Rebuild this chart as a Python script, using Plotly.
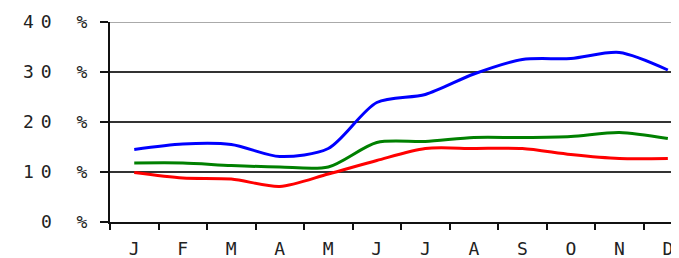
import plotly.graph_objects as go

months = ["J", "F", "M", "A", "M", "J", "J", "A", "S", "O", "N", "D"]
blue_vals = [14.5, 15.6, 15.5, 13.1, 14.7, 23.9, 25.5, 29.6, 32.5, 32.7, 33.9, 30.4]
green_vals = [11.8, 11.8, 11.3, 11.0, 11.0, 15.9, 16.1, 16.9, 16.9, 17.1, 17.9, 16.7]
red_vals = [9.9, 8.8, 8.6, 7.1, 9.6, 12.3, 14.7, 14.7, 14.7, 13.5, 12.7, 12.7]
y_ticks = [0, 10, 20, 30, 40]
y_labels = ["0 %", "10 %", "20 %", "30 %", "40 %"]

x = list(range(len(months)))

fig = go.Figure()
for vals, col in [(blue_vals, "#0000FF"), (green_vals, "#008000"), (red_vals, "#FF0000")]:
    fig.add_trace(go.Scatter(x=x, y=vals, mode="lines",
                             line=dict(color=col, width=3, shape="spline", smoothing=0.8),
                             showlegend=False, hoverinfo="skip"))

fig.add_shape(type="line", xref="paper", yref="y", x0=0, x1=1, y0=40, y1=40,
              line=dict(color="#aaaaaa", width=2), layer="between")

font = dict(family="DejaVu Sans Mono", size=18, color="#222222")

# the page body has an 8px default margin, so the figure is sized to fit the window
fig.update_layout(
    width=671, height=250,
    margin=dict(l=102, r=0, t=14, b=36, autoexpand=False),
    plot_bgcolor="white", paper_bgcolor="white",
    xaxis=dict(
        range=[-0.5, 11.23], tickmode="array", tickvals=x, ticktext=months,
        ticks="", showgrid=False, zeroline=False, automargin=False,
        showline=True, linecolor="#111111", linewidth=2,
        tickfont=font, ticklabelstandoff=9,
        minor=dict(tickmode="linear", tick0=-0.5, dtick=1, ticks="outside",
                   ticklen=6, tickwidth=2, tickcolor="#111111", showgrid=False),
    ),
    yaxis=dict(
        range=[0, 40], tickmode="array", tickvals=y_ticks, ticktext=y_labels,
        ticks="outside", ticklen=8, tickwidth=2, tickcolor="#111111",
        showgrid=True, gridcolor="#333333", gridwidth=2, zeroline=False,
        automargin=False,
        showline=True, linecolor="#111111", linewidth=2,
        tickfont=font, ticklabelstandoff=2,
    ),
)

post = """
var s = document.createElement('style');
s.textContent = '.ytick text { letter-spacing: 7px; }';
document.head.appendChild(s);
"""
fig.write_html("out.html", post_script=post)
